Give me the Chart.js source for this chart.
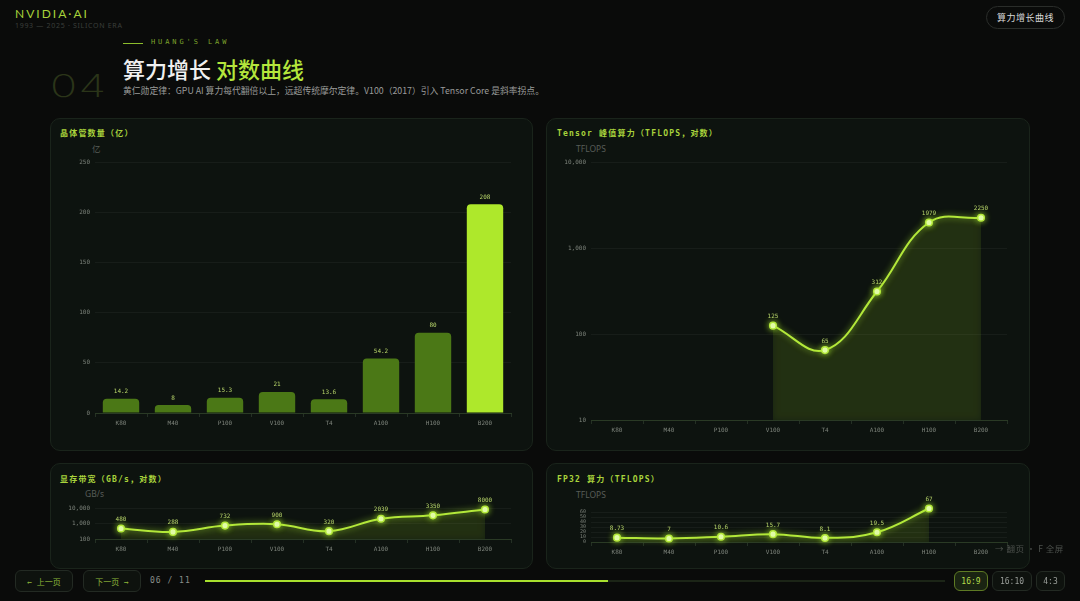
<!DOCTYPE html>
<html><head><meta charset="utf-8">
<script src="https://cdn.jsdelivr.net/npm/chart.js@4.4.1/dist/chart.umd.min.js"></script>
<style>
html,body{margin:0;padding:0;background:#0a0b0a;width:1080px;height:601px;overflow:hidden;font-family:"Noto Sans CJK SC","Noto Sans",sans-serif;}
.abs{position:absolute;white-space:nowrap;line-height:1;}
.panel{position:absolute;background:#0d130f;border:1px solid #1a241b;border-radius:10px;box-sizing:border-box;}
canvas{position:absolute;}
.ptitle{position:absolute;white-space:nowrap;line-height:1;font-family:"DejaVu Sans Mono","Noto Sans CJK SC",monospace;font-size:8px;letter-spacing:1.2px;color:#a9d33c;font-weight:bold;}
.unit{position:absolute;white-space:nowrap;line-height:1;font-family:"Noto Sans","Noto Sans CJK SC",sans-serif;font-size:8.5px;color:#585d58;}
.btn{position:absolute;box-sizing:border-box;border:1px solid #232a23;border-radius:6px;background:#0e120e;color:#8fb83a;font-family:"DejaVu Sans Mono","Noto Sans CJK SC",monospace;font-size:8px;display:flex;align-items:center;justify-content:center;white-space:nowrap;}
</style>
</head><body>
<div class="abs" style="left:15px;top:8px;font-family:Lato,'Noto Sans',sans-serif;font-size:12px;letter-spacing:2px;color:#a6d23a;">NVIDIA·AI</div>
<div class="abs" style="left:15px;top:22px;font-family:'Noto Sans',sans-serif;font-size:7px;letter-spacing:0.7px;color:#3b3f3b;">1993 — 2025 · SILICON ERA</div>
<div class="abs" style="left:986px;top:6px;width:79px;height:23px;box-sizing:border-box;border:1px solid #2a2d2a;border-radius:12px;display:flex;align-items:center;justify-content:center;font-size:9px;color:#d8d8d8;letter-spacing:0.5px;">算力增长曲线</div>

<div class="abs" style="left:123px;top:43px;width:20px;height:1px;background:#8cbd2c;"></div>
<div class="abs" style="left:151px;top:39px;font-family:'DejaVu Sans Mono',monospace;font-size:7px;letter-spacing:2.9px;color:#7da42c;">HUANG'S LAW</div>
<div class="abs" style="left:50px;top:70px;font-family:Inter,Lato,sans-serif;font-weight:200;font-size:31px;color:#2b3519;transform:scaleX(1.45);transform-origin:0 0;letter-spacing:1px;">04</div>
<div class="abs" style="left:123px;top:57px;font-size:22px;color:#f0f0f0;font-weight:500;">算力增长 <span style="color:#b4e63c;">对数曲线</span></div>
<div class="abs" style="left:123px;top:87px;font-size:8.8px;color:#9a9c9a;">黄仁勋定律：GPU AI 算力每代翻倍以上，远超传统摩尔定律。V100（2017）引入 Tensor Core 是斜率拐点。</div>

<div class="panel" style="left:50px;top:118px;width:483px;height:333px;"></div>
<div class="panel" style="left:546px;top:118px;width:484px;height:333px;"></div>
<div class="panel" style="left:50px;top:463px;width:483px;height:106px;"></div>
<div class="panel" style="left:546px;top:463px;width:484px;height:106px;"></div>

<div class="ptitle" style="left:60px;top:130px;">晶体管数量（亿）</div>
<div class="ptitle" style="left:557px;top:130px;">Tensor 峰值算力（TFLOPS，对数）</div>
<div class="ptitle" style="left:60px;top:476px;">显存带宽（GB/s，对数）</div>
<div class="ptitle" style="left:557px;top:476px;">FP32 算力（TFLOPS）</div>
<div class="unit" style="left:92px;top:145px;">亿</div>
<div class="unit" style="left:576px;top:145px;">TFLOPS</div>
<div class="unit" style="left:85px;top:490px;">GB/s</div>
<div class="unit" style="left:576px;top:491px;">TFLOPS</div>

<canvas id="c1" width="483" height="333" style="left:50px;top:118px;"></canvas>
<canvas id="c2" width="484" height="333" style="left:546px;top:118px;"></canvas>
<canvas id="c3" width="483" height="106" style="left:50px;top:463px;"></canvas>
<canvas id="c4" width="484" height="106" style="left:546px;top:463px;"></canvas>

<div class="abs" style="left:995px;top:544px;font-size:8.5px;color:#4d514d;letter-spacing:0.5px;">→ 翻页 · F 全屏</div>

<div class="btn" style="left:15px;top:570px;width:58px;height:22px;">← 上一页</div>
<div class="btn" style="left:83px;top:570px;width:58px;height:22px;">下一页 →</div>
<div class="abs" style="left:150px;top:577px;font-family:'DejaVu Sans Mono',monospace;font-size:8px;letter-spacing:1px;color:#8a8f8a;">06 / 11</div>
<div class="abs" style="left:205px;top:580px;width:740px;height:2px;background:#1c2517;"></div>
<div class="abs" style="left:205px;top:580px;width:403px;height:2px;background:#a8e02e;"></div>
<div class="btn" style="left:954px;top:571px;width:34px;height:20px;border-color:#5e7a24;background:#1a2412;color:#b4dc4a;">16:9</div>
<div class="btn" style="left:992px;top:571px;width:40px;height:20px;color:#9a9e9a;">16:10</div>
<div class="btn" style="left:1036px;top:571px;width:29px;height:20px;color:#9a9e9a;">4:3</div>

<script>
const categories = ['K80','M40','P100','V100','T4','A100','H100','B200'];
const transistors = [14.2, 8, 15.3, 21, 13.6, 54.2, 80, 208];
const tensorTflops = [null, null, null, 125, 65, 312, 1979, 2250];
const bandwidth = [480, 288, 732, 900, 320, 2039, 3350, 8000];
const fp32 = [8.73, 7, 10.6, 15.7, 8.1, 19.5, 67, null];
const transistorTicks = [0, 50, 100, 150, 200, 250];
const tensorTicks = [10, 100, 1000, 10000];
const bandwidthTicks = [100, 1000, 10000];
const fp32Ticks = [0, 10, 20, 30, 40, 50, 60];

const MONO = '"DejaVu Sans Mono", monospace';
const LIME = '#b3e83a';
const fmt = v => Number(v).toLocaleString('en-US');

const glow = {
  id: 'glow',
  beforeDatasetsDraw(chart) {
    if (chart.config.type !== 'line') return;
    chart.ctx.save();
    chart.ctx.shadowColor = 'rgba(175,240,50,0.75)';
    chart.ctx.shadowBlur = 6;
  },
  afterDatasetsDraw(chart) {
    if (chart.config.type !== 'line') return;
    chart.ctx.restore();
  }
};
const valueLabels = {
  id: 'valueLabels',
  afterDatasetsDraw(chart) {
    const ctx = chart.ctx;
    chart.data.datasets.forEach((ds, i) => {
      const meta = chart.getDatasetMeta(i);
      meta.data.forEach((el, j) => {
        const v = ds.data[j];
        if (v == null) return;
        ctx.save();
        ctx.font = '6px ' + MONO;
        ctx.fillStyle = '#b8d66a';
        ctx.textAlign = 'center';
        ctx.textBaseline = 'bottom';
        const y = meta.type === 'bar' ? el.y - 4 : el.y - 6;
        ctx.fillText(String(v), el.x, y);
        ctx.restore();
      });
    });
  }
};

function pad(panel, area, yW, xH) {
  return { left: area.l - panel.l - yW, top: area.t - panel.t, right: panel.r - area.r, bottom: panel.b - area.b - xH };
}
function makeScales(o) {
  return {
    x: {
      offset: true,
      grid: { display: true, drawOnChartArea: false, drawTicks: true, tickLength: 4, color: '#243024', offset: true },
      border: { display: true, color: '#2a3a25' },
      ticks: { color: '#7c827a', font: { family: MONO, size: 6 }, padding: 3, maxRotation: 0, autoSkip: false },
      afterFit(s) { s.height = o.xH; }
    },
    y: {
      type: o.type, min: o.min, max: o.max,
      grid: { color: 'rgba(255,255,255,0.045)', drawTicks: false },
      border: { display: false },
      ticks: { color: '#7c827a', font: { family: MONO, size: o.fs || 6 }, padding: 5, autoSkip: false, callback: v => fmt(v) },
      afterBuildTicks(s) { s.ticks = o.ticks.map(v => ({ value: v })); },
      afterFit(s) { s.width = o.yW; }
    }
  };
}
const base = {
  responsive: false, animation: false, devicePixelRatio: 1,
  plugins: { legend: { display: false }, tooltip: { enabled: false } }
};
function lineDataset(data) {
  return {
    data, borderColor: LIME, borderWidth: 2, tension: 0.4, clip: false,
    pointRadius: 3.3, pointBackgroundColor: '#efffc6', pointBorderColor: LIME, pointBorderWidth: 1.5,
    fill: 'origin', backgroundColor: 'rgba(145,205,40,0.09)', spanGaps: false
  };
}

new Chart(document.getElementById('c1'), {
  type: 'bar',
  data: { labels: categories, datasets: [{
    data: transistors,
    backgroundColor: c => c.dataIndex === categories.length - 1 ? '#aee82b' : '#4b7816',
    borderRadius: { topLeft: 4, topRight: 4 }, borderSkipped: 'bottom',
    barPercentage: 0.7, categoryPercentage: 1
  }]},
  options: Object.assign({}, base, {
    layout: { padding: pad({l:50,t:118,r:533,b:451}, {l:95,t:162,r:511,b:413}, 30, 20) },
    scales: makeScales({ type: 'linear', min: 0, max: 250, ticks: transistorTicks, yW: 30, xH: 20 })
  }),
  plugins: [valueLabels]
});

new Chart(document.getElementById('c2'), {
  type: 'line',
  data: { labels: categories, datasets: [lineDataset(tensorTflops)] },
  options: Object.assign({}, base, {
    layout: { padding: pad({l:546,t:118,r:1030,b:451}, {l:591,t:162,r:1007,b:420}, 30, 20) },
    scales: makeScales({ type: 'logarithmic', min: 10, max: 10000, ticks: tensorTicks, yW: 30, xH: 20 })
  }),
  plugins: [glow, valueLabels]
});

new Chart(document.getElementById('c3'), {
  type: 'line',
  data: { labels: categories, datasets: [lineDataset(bandwidth)] },
  options: Object.assign({}, base, {
    layout: { padding: pad({l:50,t:463,r:533,b:569}, {l:95,t:508,r:511,b:539}, 30, 20) },
    scales: makeScales({ type: 'logarithmic', min: 100, max: 10000, ticks: bandwidthTicks, yW: 30, xH: 20 })
  }),
  plugins: [glow, valueLabels]
});

new Chart(document.getElementById('c4'), {
  type: 'line',
  data: { labels: categories, datasets: [lineDataset(fp32)] },
  options: Object.assign({}, base, {
    layout: { padding: pad({l:546,t:463,r:1030,b:569}, {l:591,t:507,r:1007,b:542}, 30, 20) },
    scales: makeScales({ type: 'linear', min: 0, max: 70, ticks: fp32Ticks, yW: 30, xH: 20, fs: 5 })
  }),
  plugins: [glow, valueLabels]
});
</script>
</body></html>
